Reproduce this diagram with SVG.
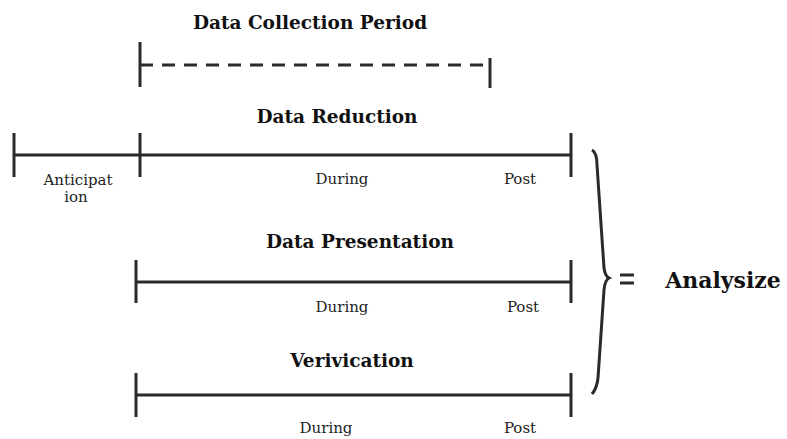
<svg xmlns="http://www.w3.org/2000/svg" width="787" height="439" viewBox="0 0 787 439">
<style>
.t{font-family:"DejaVu Serif","Liberation Serif",serif;font-weight:bold;font-size:18.5px;fill:#111;text-anchor:middle}
.big{font-size:22px}
.s{font-family:"DejaVu Serif","Liberation Serif",serif;font-size:15px;fill:#222;text-anchor:middle}
.ln{stroke:#2a2a2a;stroke-width:3;fill:none}
</style>
<rect width="787" height="439" fill="#fff"/>
<g id="collection">
<text class="t" x="310" y="29">Data Collection Period</text>
<line class="ln" x1="140" y1="42" x2="140" y2="87"/>
<line class="ln" x1="140" y1="65" x2="490" y2="65" stroke-dasharray="13,9"/>
<line class="ln" x1="490" y1="58" x2="490" y2="88"/>
</g>
<g id="reduction">
<text class="t" x="337" y="123">Data Reduction</text>
<line class="ln" x1="14" y1="155" x2="571" y2="155"/>
<line class="ln" x1="14" y1="133" x2="14" y2="177"/>
<line class="ln" x1="140" y1="133" x2="140" y2="177"/>
<line class="ln" x1="571" y1="133" x2="571" y2="177"/>
<text class="s" x="78" y="185">Anticipat</text>
<text class="s" x="76" y="202">ion</text>
<text class="s" x="342" y="184">During</text>
<text class="s" x="520" y="184">Post</text>
</g>
<g id="presentation">
<text class="t" x="360" y="248">Data Presentation</text>
<line class="ln" x1="136" y1="282" x2="571" y2="282"/>
<line class="ln" x1="136" y1="260" x2="136" y2="303"/>
<line class="ln" x1="571" y1="260" x2="571" y2="303"/>
<text class="s" x="342" y="312">During</text>
<text class="s" x="523" y="312">Post</text>
</g>
<g id="verification">
<text class="t" x="352" y="367">Verivication</text>
<line class="ln" x1="136" y1="395" x2="571" y2="395"/>
<line class="ln" x1="136" y1="373" x2="136" y2="417"/>
<line class="ln" x1="571" y1="373" x2="571" y2="417"/>
<text class="s" x="326" y="433">During</text>
<text class="s" x="520" y="433">Post</text>
</g>
<g id="connectors">
<path class="ln" stroke-width="2.5" d="M592,150 Q597,153 597,165 L604,268 Q605,276 609,278 Q605,280 604,290 L598,378 Q597,388 592,394"/>
<line class="ln" x1="620" y1="275" x2="634" y2="275"/>
<line class="ln" x1="620" y1="283" x2="634" y2="283"/>
</g>
<g id="analysize">
<text class="t big" x="723" y="288">Analysize</text>
</g>
</svg>
